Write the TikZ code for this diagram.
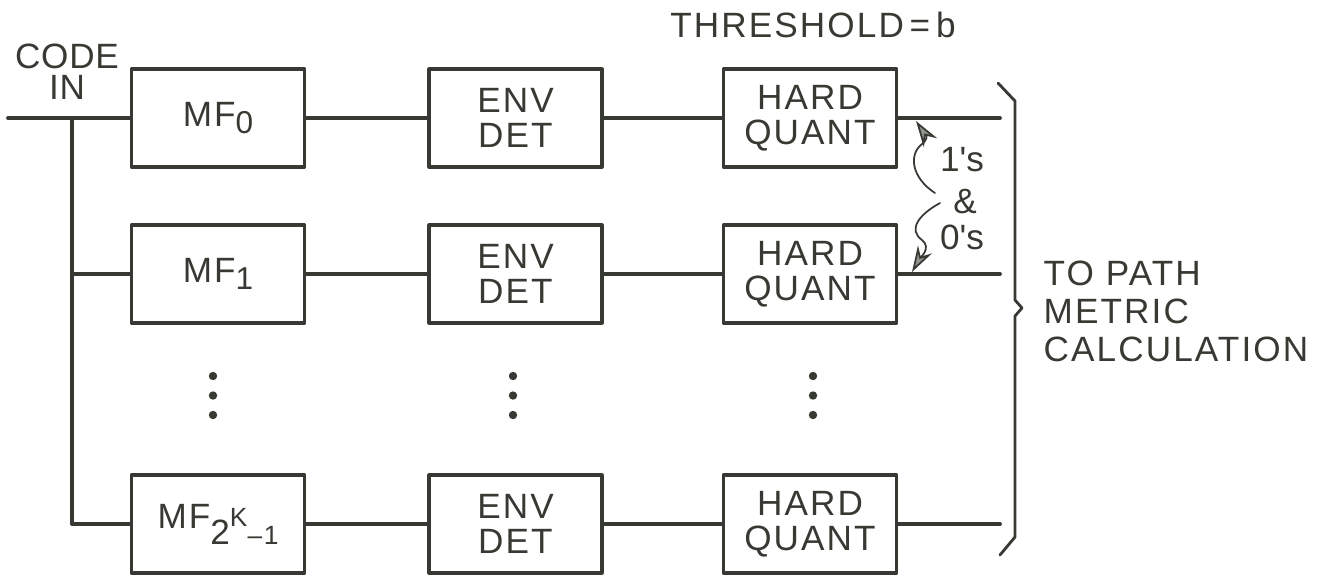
\documentclass[tikz,border=0pt]{standalone}
\usepackage{fontspec}
\setmainfont{Liberation Sans}[LetterSpace=6]
\usetikzlibrary{arrows.meta}
\definecolor{ink}{RGB}{55,58,50}
\newcommand{\lowidx}[1]{\raisebox{-0.22em}{\fontsize{9}{9}\selectfont #1}}

\begin{document}
\begin{tikzpicture}[x=1cm,y=-1cm,line cap=round,line join=round,
  blk/.style={draw=ink,line width=0.9pt,minimum width=1.73cm,minimum height=0.98cm,
    inner sep=0pt,align=center,text=ink,font=\fontsize{10}{10}\selectfont},
  wire/.style={draw=ink,line width=1.1pt},
  lbl/.style={text=ink,inner sep=0pt,font=\fontsize{10}{11}\selectfont},
  curl/.style={draw=ink,line width=0.5pt,-{Stealth[length=2.6mm,width=1.6mm,fill=ink!55]}}]
  \useasboundingbox (0,0) rectangle (13.19,5.76);
  % filter bank
  \node[blk] (mf0) at (2.18,1.18) {MF\lowidx{0}};
  \node[blk] (mf1) at (2.18,2.74) {MF\lowidx{1}};
  \node[blk] (mf2) at (2.18,5.24) {MF\raisebox{-0.45em}{2}\raisebox{0.05em}{\fontsize{7.5}{7.5}\selectfont K}\raisebox{-0.45em}{\fontsize{7.5}{7.5}\selectfont --1}};
  \foreach \r/\y in {0/1.18,1/2.74,2/5.24} {
    \node[blk] (env\r) at (5.155,\y) {ENV\\DET};
    \node[blk] (hq\r) at (8.10,\y) {HARD\\QUANT};
    \coordinate (out\r) at (10.00,\y);
    \draw[wire] (mf\r) -- (env\r);
    \draw[wire] (env\r) -- (hq\r);
    \draw[wire] (hq\r) -- (out\r);
  }
  % input feed
  \coordinate (cin) at (0.08,1.18);
  \coordinate (tap) at (0.72,1.18);
  \draw[wire] (cin) -- (mf0.west);
  \draw[wire] (tap) |- (mf2.west);
  \draw[wire] (tap |- mf1.west) -- (mf1.west);
  \foreach \x in {2.13,5.13,8.13} {
    \foreach \y in {3.76,3.955,4.15} {
      \fill[ink] (\x,\y) circle (0.042);
    }
  }
  % output brace
  \draw[ink,line width=0.8pt] (9.98,0.83) -- (10.15,1.01) -- (10.15,3.00) -- (10.22,3.08)
    -- (10.15,3.16) -- (10.15,5.37) -- (10.00,5.55);
  % labels
  \node[lbl,align=center,font=\fontsize{10}{8.8}\selectfont\addfontfeature{LetterSpace=2}] (codein) at (0.67,0.72) {CODE\\IN};
  \node[lbl] (thr) at (8.13,0.25) {THRESHOLD\,=\,b};
  \node[lbl,align=left,anchor=west,font=\fontsize{10}{10.8}\selectfont] (dest) at (10.43,3.11) {TO PATH\\METRIC\\CALCULATION};
  \node[lbl] (ones) at (9.62,1.60) {1\textquotesingle s};
  \node[lbl] (amp) at (9.65,2.01) {\&};
  \node[lbl] (zeros) at (9.62,2.37) {0\textquotesingle s};
  \coordinate (s0) at (9.35,1.93);
  \coordinate (t0) at (9.16,1.21);
  \coordinate (s1) at (9.40,2.03);
  \coordinate (t1) at (9.12,2.72);
  \draw[curl] (s0) .. controls (9.12,1.78) and (9.08,1.55) .. (9.22,1.44)
    .. controls (9.32,1.36) and (9.22,1.30) .. (t0);
  \draw[curl] (s1) .. controls (9.18,2.15) and (9.08,2.30) .. (9.22,2.40)
    .. controls (9.32,2.48) and (9.20,2.58) .. (t1);
\end{tikzpicture}
\end{document}
